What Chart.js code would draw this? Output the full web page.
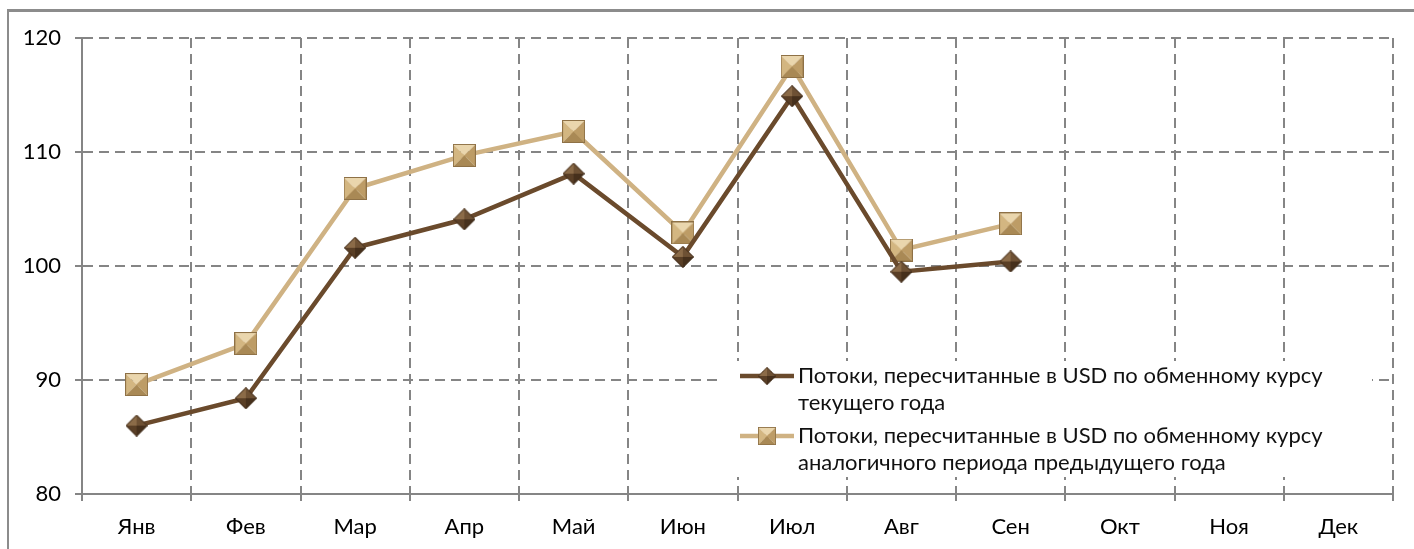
<!DOCTYPE html>
<html>
<head>
<meta charset="utf-8">
<script src="https://cdn.jsdelivr.net/npm/chart.js@4"></script>
<style>
  body { margin: 0; background: #fff; }
  #frame { position: absolute; left: 7px; top: 9px; width: 1500px; height: 600px;
           border-left: 2px solid #8c8c8c; border-top: 3px solid #8c8c8c; }
  #wrap { position: absolute; left: 0; top: 0; width: 1414px; height: 549px; }
</style>
</head>
<body>
<div id="frame"></div>
<div id="wrap"><canvas id="flowChart"></canvas></div>
<script>
// Данные
const months = ['Янв', 'Фев', 'Мар', 'Апр', 'Май', 'Июн', 'Июл', 'Авг', 'Сен', 'Окт', 'Ноя', 'Дек'];
const currentRate = [86.0, 88.4, 101.6, 104.1, 108.1, 100.8, 114.9, 99.5, 100.4, null, null, null];
const prevYearRate = [89.6, 93.2, 106.8, 109.7, 111.8, 102.9, 117.5, 101.4, 103.7, null, null, null];
const yTicks = [80, 90, 100, 110, 120];
const seriesNames = [
    ['Потоки, пересчитанные в USD по обменному курсу', 'текущего года'],
    ['Потоки, пересчитанные в USD по обменному курсу', 'аналогичного периода предыдущего года']
];

const FONT = 'Lato, "Open Sans", sans-serif';
const GRID = '#858585';

// маркер-ромб с объёмом
function makeDiamond(s) {
    const c = document.createElement('canvas');
    c.width = s; c.height = s;
    const g = c.getContext('2d');
    const m = s / 2;
    const tri = (pts, col) => {
        g.beginPath(); g.moveTo(m, m);
        pts.forEach(p => g.lineTo(p[0], p[1]));
        g.closePath(); g.fillStyle = col; g.fill();
    };
    tri([[m, 0], [0, m]], '#8b6b48');
    tri([[m, 0], [s, m]], '#6e5134');
    tri([[0, m], [m, s]], '#5a3f26');
    tri([[s, m], [m, s]], '#46301c');
    g.beginPath(); g.moveTo(m, 0.5); g.lineTo(s - 0.5, m); g.lineTo(m, s - 0.5); g.lineTo(0.5, m); g.closePath();
    g.strokeStyle = '#3e2a18'; g.lineWidth = 1; g.stroke();
    return c;
}

// маркер-квадрат с объёмом
function makeSquare(s) {
    const c = document.createElement('canvas');
    c.width = s; c.height = s;
    const g = c.getContext('2d');
    const m = s / 2;
    const tri = (pts, col) => {
        g.beginPath(); g.moveTo(m, m);
        pts.forEach(p => g.lineTo(p[0], p[1]));
        g.closePath(); g.fillStyle = col; g.fill();
    };
    tri([[0, 0], [s, 0]], '#ead6ad');
    tri([[0, 0], [0, s]], '#d3b681');
    tri([[s, 0], [s, s]], '#bd9c66');
    tri([[0, s], [s, s]], '#a98955');
    g.strokeStyle = '#8e7146'; g.lineWidth = 1;
    g.strokeRect(0.5, 0.5, s - 1, s - 1);
    return c;
}

const diamond = makeDiamond(22);
const square = makeSquare(23);

// легенда внутри области графика
const innerLegend = {
    id: 'innerLegend',
    afterDatasetsDraw(chart) {
        const ctx = chart.ctx;
        ctx.save();
        ctx.fillStyle = '#fff';
        ctx.fillRect(722, 361, 650, 116);
        const rows = [
            { y: 376, color: '#6a4a2c', img: diamond, text: seriesNames[0] },
            { y: 436, color: '#cfb283', img: square, text: seriesNames[1] }
        ];
        rows.forEach(r => {
            ctx.strokeStyle = r.color;
            ctx.lineWidth = 4.5;
            ctx.beginPath(); ctx.moveTo(740, r.y); ctx.lineTo(794, r.y); ctx.stroke();
            ctx.drawImage(r.img, 767 - 9, r.y - 9, 18, 18);
            ctx.fillStyle = '#111';
            ctx.font = '22px ' + FONT;
            ctx.textBaseline = 'middle';
            ctx.textAlign = 'left';
            ctx.fillText(r.text[0], 798, r.y);
            ctx.fillText(r.text[1], 798, r.y + 27);
        });
        ctx.restore();
    }
};

const ctxEl = document.querySelector('#flowChart');

const chart = new Chart(ctxEl, {
    type: 'line',
    data: {
        labels: months,
        datasets: [
            {
                label: seriesNames[0].join(' '),
                data: currentRate,
                borderColor: '#6a4a2c',
                borderWidth: 4.5,
                pointStyle: diamond,
                pointRadius: 11,
                tension: 0,
                spanGaps: false
            },
            {
                label: seriesNames[1].join(' '),
                data: prevYearRate,
                borderColor: '#cfb283',
                borderWidth: 4.5,
                pointStyle: square,
                pointRadius: 12,
                tension: 0,
                spanGaps: false
            }
        ]
    },
    options: {
        responsive: true,
        maintainAspectRatio: false,
        animation: false,
        layout: { padding: { top: 38, right: 21, left: 0, bottom: 0 } },
        plugins: {
            legend: { display: false },
            tooltip: { enabled: false }
        },
        scales: {
            x: {
                offset: true,
                afterFit: s => { s.height = 55; },
                grid: {
                    offset: true,
                    color: GRID,
                    lineWidth: 2,
                    tickBorderDash: [],
                    tickLength: 7
                },
                border: { display: true, color: GRID, width: 2, dash: [10, 6] },
                ticks: {
                    color: '#000',
                    font: { family: FONT, size: 22 },
                    padding: 13
                }
            },
            y: {
                min: 80,
                max: 120,
                afterFit: s => { s.width = 82; },
                afterBuildTicks: s => { s.ticks = yTicks.map(v => ({ value: v })); },
                grid: {
                    color: GRID,
                    lineWidth: 2,
                    tickBorderDash: [],
                    tickLength: 7
                },
                border: { display: true, color: GRID, width: 2, dash: [10, 6] },
                ticks: {
                    color: '#000',
                    font: { family: FONT, size: 22 },
                    padding: 14
                }
            }
        }
    },
    plugins: [innerLegend]
});
</script>
</body>
</html>
